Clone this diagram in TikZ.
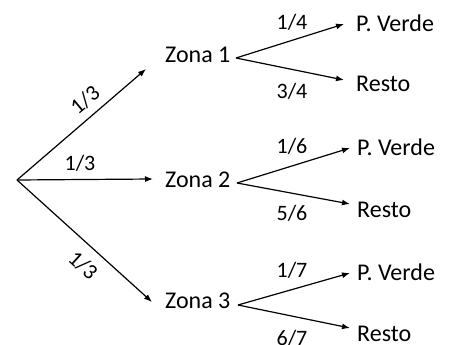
\documentclass[tikz,border=0pt]{standalone}
\usepackage{fontspec}
\setmainfont{Carlito}
\usetikzlibrary{arrows.meta}
\begin{document}
\begin{tikzpicture}[x=1pt,y=-1pt,
  lbl/.style={inner sep=0pt,anchor=base west,font=\fontsize{24}{28}\selectfont},
  frac/.style={inner sep=0pt,font=\fontsize{22}{26}\selectfont},
  arr/.style={line width=1.2pt,-{Latex[length=8pt,width=6pt]}}]
\useasboundingbox (0,0) rectangle (453,345);
\coordinate (r) at (17,180);
% zone nodes
\node[lbl] (z1) at (165,63) {Zona 1};
\node[lbl] (z2) at (165,187) {Zona 2};
\node[lbl] (z3) at (165,308) {Zona 3};
% outcome nodes
\node[lbl] (pv1) at (356,32) {P. Verde};
\node[lbl] (re1) at (356,92) {Resto};
\node[lbl] (pv2) at (357,156) {P. Verde};
\node[lbl] (re2) at (357,217) {Resto};
\node[lbl] (pv3) at (357,280) {P. Verde};
\node[lbl] (re3) at (357,341) {Resto};
% first level
\draw[arr] (r) -- ([shift={(-19,6)}]z1.base west);
\draw[arr] (r) -- ([shift={(-12,-8)}]z2.base west);
\draw[arr] (r) -- ([shift={(-13,-6)}]z3.base west);
% second level
\draw[arr] ([shift={(71,-5)}]z1.base west) -- ([shift={(-12,-8)}]pv1.base west);
\draw[arr] ([shift={(71,-5)}]z1.base west) -- ([shift={(-12,-12)}]re1.base west);
\draw[arr] ([shift={(72,-4)}]z2.base west) -- ([shift={(-7,-8)}]pv2.base west);
\draw[arr] ([shift={(72,-4)}]z2.base west) -- ([shift={(-7,-13)}]re2.base west);
\draw[arr] ([shift={(73,-3)}]z3.base west) -- ([shift={(-7,-7)}]pv3.base west);
\draw[arr] ([shift={(73,-3)}]z3.base west) -- ([shift={(-7,-13)}]re3.base west);
% probabilities
\node[frac,rotate=40] (p1) at (85,100) {1/3};
\node[frac] (p2) at (80,163) {1/3};
\node[frac,rotate=-42] (p3) at (83,265) {1/3};
\node[frac] (q1) at (292,22) {1/4};
\node[frac] (q2) at (292,91) {3/4};
\node[frac] (q3) at (292,146) {1/6};
\node[frac] (q4) at (292,213) {5/6};
\node[frac] (q5) at (292,270) {1/7};
\node[frac] (q6) at (292,338) {6/7};
\end{tikzpicture}
\end{document}
